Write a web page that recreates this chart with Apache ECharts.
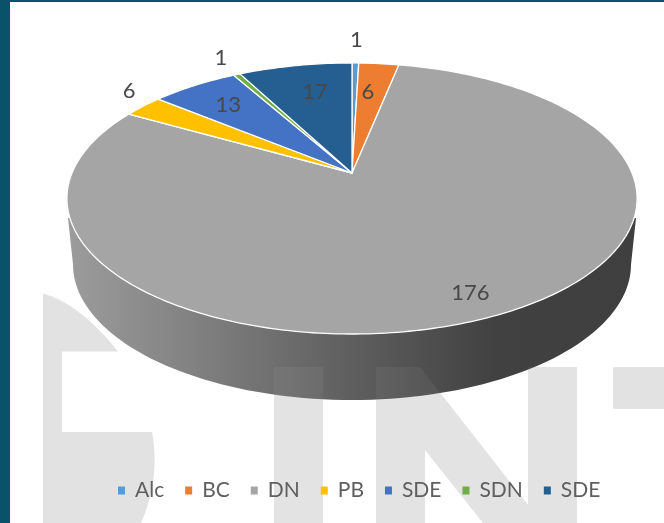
<!DOCTYPE html>
<html>
<head>
<meta charset="utf-8">
<style>html,body{margin:0;padding:0;background:#fff}#c{width:664px;height:523px}</style>
<script src="https://cdn.jsdelivr.net/npm/echarts@6/dist/echarts.min.js"></script>
</head>
<body>
<div id="c"></div>
<script>
// Data
const categories = ['Alc', 'BC', 'DN', 'PB', 'SDE', 'SDN', 'SDE'];
const values = [1, 6, 176, 6, 13, 1, 17];
const colors = ['#5B9BD5', '#ED7D31', '#A5A5A5', '#FFC000', '#4472C4', '#70AD47', '#255E91'];

// Presentation only: label offset from the slice's rim midpoint
const labelOffsets = [[1, -23.5], [-11, 28.5], [-22, -24], [-14, -15.5], [34, 19.5], [-16, -17], [20, 26.5]];

// Perspective of the tilted disc
const view = { cx: 352, cy: 173, ax: 280, ay: 98.2, k: -0.188 };
const wallBase = { cx: 352, cy: 264.5, a: 279, b: 135.5 };
const total = values.reduce((s, v) => s + v, 0);
const starts = values.map((_, i) => values.slice(0, i).reduce((s, v) => s + v, 0));

function project(deg, r) {
  const t = deg * Math.PI / 180, X = r * Math.sin(t), Y = -r * Math.cos(t), w = 1 + view.k * Y;
  return [view.cx + view.ax * X / w, (view.ay * Y + view.cy) / w];
}
function wallShape() {
  const pts = [];
  for (let d = 0; d <= 180; d += 2) {
    const t = d * Math.PI / 180;
    pts.push([wallBase.cx - wallBase.a * Math.cos(t), wallBase.cy + wallBase.b * Math.sin(t)]);
  }
  pts.push([636, 218], [68, 218]);
  return pts;
}
function quad(p0, c, p1) {
  const out = [];
  for (let j = 0; j <= 24; j++) {
    const t = j / 24, u = 1 - t;
    out.push([u * u * p0[0] + 2 * u * t * c[0] + t * t * p1[0], u * u * p0[1] + 2 * u * t * c[1] + t * t * p1[1]]);
  }
  return out;
}
const wallFill = new echarts.graphic.LinearGradient(0, 0, 1, 0, [
  { offset: 0, color: '#9c9c9c' }, { offset: 0.23, color: '#808080' },
  { offset: 0.42, color: '#686868' }, { offset: 0.75, color: '#414141' }, { offset: 1, color: '#3f3f3f' }
]);

const renderSlice = i => (params, api) => {
  const a0 = starts[i] / total * 360, a1 = (starts[i] + api.value(0)) / total * 360;
  const pts = [[view.cx, view.cy]];
  const n = Math.max(2, Math.ceil(a1 - a0));
  for (let j = 0; j <= n; j++) pts.push(project(a0 + (a1 - a0) * j / n, 1));
  const children = [];
  if (a0 <= 180 && a1 >= 180) {
    children.push({ type: 'polygon', shape: { points: wallShape() }, style: { fill: wallFill, stroke: null } });
  }
  children.push({ type: 'polygon', shape: { points: pts }, style: { fill: colors[i], stroke: '#fff', lineWidth: 1.3, lineJoin: 'round' } });
  const rim = project((a0 + a1) / 2, 1);
  children.push({
    type: 'text', z2: 10,
    style: {
      x: rim[0] + labelOffsets[i][0], y: rim[1] + labelOffsets[i][1], text: String(api.value(0)),
      fill: '#484848', font: '22px Lato, sans-serif', align: 'center', verticalAlign: 'middle'
    }
  });
  return { type: 'group', children };
};

// Unique legend keys; the formatter shows the plain category name
const keys = categories.map((c, i) => c + '#' + i);
const wmColor = '#e2e2e3';
const iBar = { x: 274, y: 367, width: 49, height: 156 };
const nPts = [[376, 367], [420, 367], [528, 505], [528, 367], [577, 367], [577, 523], [483, 523], [425, 450], [425, 523], [376, 523]];
const dPts = [].concat(
  quad([43, 293.5], [79.5, 303.5], [118, 351.5]),
  [[62, 351.5], [62, 432]],
  quad([152, 432], [160.5, 478.5], [141, 523]),
  [[43, 523]]
);

const chart = echarts.init(document.getElementById('c'), null, { renderer: 'canvas' });
chart.setOption({
  animation: false,
  backgroundColor: '#fff',
  graphic: [
    { type: 'rect', z: -5, silent: true, shape: { x: 0, y: 0, width: 664, height: 2 }, style: { fill: '#0a5269' } },
    { type: 'rect', z: -5, silent: true, shape: { x: 0, y: 0, width: 10, height: 523 }, style: { fill: '#0a5269' } },
    { type: 'polygon', z: -5, silent: true, shape: { points: dPts }, style: { fill: wmColor } },
    { type: 'rect', z: -5, silent: true, shape: iBar, style: { fill: wmColor } },
    { type: 'polygon', z: -5, silent: true, shape: { points: nPts }, style: { fill: wmColor } },
    { type: 'rect', z: -5, silent: true, shape: { x: 613, y: 367, width: 51, height: 42 }, style: { fill: wmColor } },
    { type: 'rect', z: 3, silent: true, shape: iBar, style: { fill: '#fff', opacity: 0.05 } },
    { type: 'polygon', z: 3, silent: true, shape: { points: nPts }, style: { fill: '#fff', opacity: 0.05 } }
  ],
  legend: {
    left: 113, top: 475, icon: 'rect', itemWidth: 7, itemHeight: 8, itemGap: 21, selectedMode: false,
    data: keys,
    formatter: n => n.split('#')[0],
    textStyle: { color: '#5f5f5f', fontSize: 21, fontFamily: 'Lato, sans-serif', padding: [0, 0, 0, 5] }
  },
  series: keys.map((k, i) => ({
    type: 'custom', name: k, coordinateSystem: 'none', z: 2,
    itemStyle: { color: colors[i] },
    renderItem: renderSlice(i),
    data: [[values[i]]]
  }))
});
</script>
</body>
</html>
